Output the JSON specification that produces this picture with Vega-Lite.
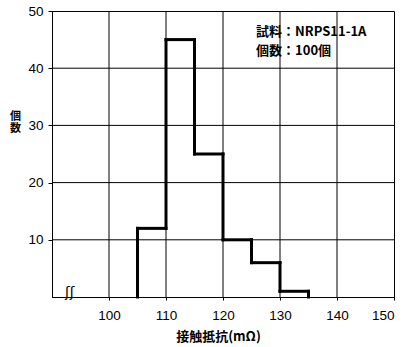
{
  "$schema": "https://vega.github.io/schema/vega-lite/v6.json",
  "width": 342,
  "height": 286,
  "autosize": {"type": "none"},
  "padding": {"left": 52, "top": 11, "right": 10, "bottom": 50},
  "background": "white",
  "config": {
    "view": {"stroke": "black", "strokeWidth": 1},
    "font": "Liberation Sans",
    "axis": {
      "grid": false,
      "domainColor": "black",
      "domainWidth": 1,
      "tickColor": "black",
      "labelColor": "black",
      "labelFont": "Liberation Sans",
      "labelFontSize": 13.5,
      "titleColor": "black",
      "titleFont": "Noto Sans CJK JP",
      "titleFontWeight": "bold",
      "titleFontSize": 13
    }
  },
  "datasets": {
    "bins": [
      {"lo": 100, "hi": 105, "count": 0},
      {"lo": 105, "hi": 110, "count": 12},
      {"lo": 110, "hi": 115, "count": 45},
      {"lo": 115, "hi": 120, "count": 25},
      {"lo": 120, "hi": 125, "count": 10},
      {"lo": 125, "hi": 130, "count": 6},
      {"lo": 130, "hi": 135, "count": 1},
      {"lo": 135, "hi": 140, "count": 0}
    ],
    "xgrid": [{"v": 100}, {"v": 110}, {"v": 120}, {"v": 130}, {"v": 140}],
    "ygrid": [{"v": 10}, {"v": 20}, {"v": 30}, {"v": 40}],
    "notes": [
      {"x": 125.8, "y": 46.3, "text": "試料：NRPS11-1A"},
      {"x": 125.8, "y": 43.0, "text": "個数：100個"}
    ],
    "axisbreak": [{"x": 93.1, "y": 0, "text": "ʃʃ"}]
  },
  "layer": [
    {
      "data": {"name": "xgrid"},
      "mark": {"type": "rule", "color": "black", "strokeWidth": 1},
      "encoding": {
        "x": {
          "field": "v",
          "type": "quantitative",
          "scale": {"domain": [90, 150], "nice": false, "zero": false},
          "axis": {
            "values": [100, 110, 120, 130, 140, 150],
            "tickSize": 3,
            "labelPadding": 8,
            "title": "接触抵抗(mΩ)",
            "titleX": 166,
            "titlePadding": 9
          }
        },
        "y": {
          "datum": 0,
          "type": "quantitative",
          "scale": {"domain": [0, 50], "nice": false},
          "axis": {
            "values": [10, 20, 30, 40, 50],
            "tickSize": 4,
            "labelPadding": 5,
            "title": ["個", "数"],
            "titleFontSize": 11,
            "titleAngle": 0,
            "titleAlign": "center",
            "titleBaseline": "top",
            "titleLineHeight": 12,
            "titleX": -37,
            "titleY": 99
          }
        },
        "y2": {"datum": 50}
      }
    },
    {
      "data": {"name": "ygrid"},
      "mark": {"type": "rule", "color": "black", "strokeWidth": 1},
      "encoding": {
        "y": {"field": "v", "type": "quantitative"},
        "x": {"datum": 90, "type": "quantitative"},
        "x2": {"datum": 150}
      }
    },
    {
      "data": {"name": "bins"},
      "transform": [{"filter": "datum.count > 0"}],
      "mark": {"type": "rule", "color": "black", "strokeWidth": 3, "strokeCap": "square"},
      "encoding": {
        "x": {"field": "lo", "type": "quantitative"},
        "x2": {"field": "hi"},
        "y": {"field": "count", "type": "quantitative"}
      }
    },
    {
      "data": {"name": "bins"},
      "transform": [
        {"window": [{"op": "lag", "field": "count", "as": "prev"}], "sort": [{"field": "lo"}]},
        {"filter": "datum.prev != null && datum.prev !== datum.count"}
      ],
      "mark": {"type": "rule", "color": "black", "strokeWidth": 3, "strokeCap": "square"},
      "encoding": {
        "x": {"field": "lo", "type": "quantitative"},
        "y": {"field": "prev", "type": "quantitative"},
        "y2": {"field": "count"}
      }
    },
    {
      "data": {"name": "axisbreak"},
      "mark": {"type": "text", "font": "DejaVu Sans", "fontSize": 14, "align": "center", "baseline": "bottom", "dy": 3, "color": "black"},
      "encoding": {
        "x": {"field": "x", "type": "quantitative"},
        "y": {"field": "y", "type": "quantitative"},
        "text": {"field": "text"}
      }
    },
    {
      "data": {"name": "notes"},
      "mark": {"type": "text", "font": "Noto Sans CJK JP", "fontWeight": "bold", "fontSize": 13, "align": "left", "baseline": "middle", "color": "black"},
      "encoding": {
        "x": {"field": "x", "type": "quantitative"},
        "y": {"field": "y", "type": "quantitative"},
        "text": {"field": "text"}
      }
    }
  ]
}
